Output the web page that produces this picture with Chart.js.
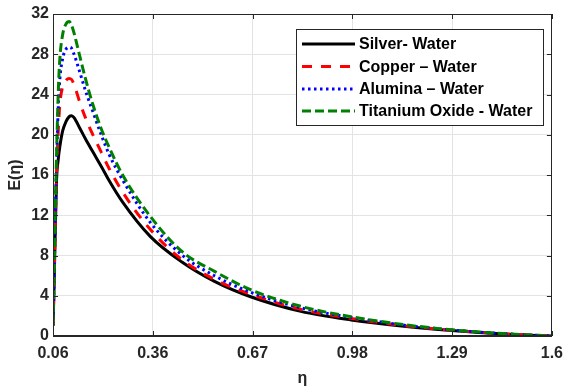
<!DOCTYPE html>
<html><head><meta charset="utf-8">
<script src="https://cdn.jsdelivr.net/npm/chart.js@4"></script>
<style>html,body{margin:0;padding:0;background:#fff}#wrap{width:571px;height:391px}</style>
</head><body><div id="wrap"><canvas id="c" width="571" height="391"></canvas></div>
<script>
const etaValues = [0.06, 0.063, 0.066, 0.071, 0.076, 0.081, 0.09, 0.1, 0.11, 0.117, 0.125, 0.142, 0.16, 0.183, 0.21, 0.234, 0.275, 0.36, 0.458, 0.56, 0.67, 0.825, 0.98, 1.15, 1.29, 1.45, 1.6];
const silverWater = [1.0, 4.5, 9.0, 15.5, 17.5, 18.8, 20.4, 21.3, 21.8, 21.9, 21.7, 20.7, 19.6, 18.3, 16.8, 15.4, 13.3, 9.9, 7.35, 5.4, 3.9, 2.45, 1.6, 0.95, 0.55, 0.2, 0];
const copperWater = [1.0, 4.8, 9.5, 16.2, 20.2, 23.0, 24.8, 25.4, 25.6, 25.5, 25.0, 23.3, 21.7, 20.0, 18.2, 16.6, 14.3, 10.6, 7.6, 5.6, 4.15, 2.65, 1.75, 1.0, 0.58, 0.22, 0];
const aluminaWater = [1.1, 5.0, 10.0, 17.0, 22.5, 25.5, 27.6, 28.5, 28.7, 28.6, 28.0, 26.3, 24.4, 22.3, 19.9, 18.0, 15.5, 11.3, 8.05, 5.96, 4.35, 2.8, 1.85, 1.05, 0.6, 0.23, 0];
const titaniumOxideWater = [1.1, 5.2, 10.5, 18.0, 24.0, 27.5, 30.0, 31.0, 31.25, 30.9, 30.1, 27.9, 25.6, 23.0, 20.5, 18.7, 16.0, 11.9, 8.4, 6.4, 4.6, 2.95, 1.92, 1.1, 0.62, 0.24, 0];
const seriesLabels = ['Silver- Water', 'Copper \u2013 Water', 'Alumina \u2013 Water', 'Titanium Oxide - Water'];
const xTickValues = [0.06, 0.368, 0.676, 0.984, 1.292, 1.6];
const xTickLabels = ['0.06', '0.36', '0.67', '0.98', '1.29', '1.6'];
const yTickValues = [0, 4, 8, 12, 16, 20, 24, 28, 32];

const pts = arr => etaValues.map((x, i) => ({x: x, y: arr[i]}));
const AX = '#262626';
const FONT = "'Liberation Sans', Arial, sans-serif";

const boxPlugin = {
  id: 'boxPlugin',
  afterDraw(chart) {
    const {ctx, chartArea: {left, right, top, bottom}, scales: {x, y}} = chart;
    ctx.save();
    ctx.strokeStyle = AX; ctx.lineWidth = 1;
    ctx.strokeRect(Math.round(left) + 0.5, Math.round(top) + 0.5, Math.round(right - left) - 1, Math.round(bottom - top) - 1);
    ctx.beginPath();
    x.ticks.forEach(t => {
      const px = Math.round(x.getPixelForValue(t.value)) + 0.5;
      ctx.moveTo(px, bottom); ctx.lineTo(px, bottom - 5);
      ctx.moveTo(px, top); ctx.lineTo(px, top + 5);
    });
    y.ticks.forEach(t => {
      const py = Math.round(y.getPixelForValue(t.value)) + 0.5;
      ctx.moveTo(left, py); ctx.lineTo(left + 5, py);
      ctx.moveTo(right, py); ctx.lineTo(right - 5, py);
    });
    ctx.stroke();
    // legend
    const bx = 296.5, by = 29.5, bw = 247, bh = 96;
    ctx.fillStyle = '#fff';
    ctx.fillRect(bx, by, bw, bh);
    ctx.strokeStyle = AX;
    ctx.strokeRect(bx, by, bw, bh);
    const rowY = [44, 66.5, 89, 111];
    chart.data.datasets.forEach((ds, i) => {
      const yy = rowY[i];
      ctx.save();
      ctx.strokeStyle = ds.borderColor;
      ctx.lineWidth = ds.borderWidth;
      ctx.setLineDash(ds.borderDash || []);
      ctx.beginPath();
      ctx.moveTo(302, yy); ctx.lineTo(355, yy);
      ctx.stroke();
      ctx.restore();
      ctx.fillStyle = '#000';
      ctx.font = 'bold 16px ' + FONT;
      ctx.textBaseline = 'middle';
      ctx.textAlign = 'left';
      ctx.fillText(ds.label, 359, yy + 1);
    });
    ctx.restore();
  }
};

new Chart(document.getElementById('c'), {
  type: 'line',
  data: {
    datasets: [
      {label: seriesLabels[0], data: pts(silverWater), borderColor: '#000000', borderWidth: 3, order: 3},
      {label: seriesLabels[1], data: pts(copperWater), borderColor: '#ff0000', borderWidth: 3, borderDash: [10, 9], order: 2},
      {label: seriesLabels[2], data: pts(aluminaWater), borderColor: '#0000ff', borderWidth: 3, borderDash: [2.5, 3.5], order: 1},
      {label: seriesLabels[3], data: pts(titaniumOxideWater), borderColor: '#008000', borderWidth: 3, borderDash: [9, 4], order: 0}
    ]
  },
  options: {
    responsive: false,
    animation: false,
    devicePixelRatio: 1,
    layout: {padding: {top: 14, right: 14, left: 0, bottom: 0}},
    elements: {point: {radius: 0}, line: {cubicInterpolationMode: 'monotone', fill: false}},
    plugins: {legend: {display: false}, tooltip: {enabled: false}},
    scales: {
      x: {
        type: 'linear', min: 0.06, max: 1.6,
        afterBuildTicks: s => { s.ticks = xTickValues.map(v => ({value: v})); },
        afterFit: s => { s.height = 55; },
        ticks: {
          callback: (v, i) => xTickLabels[i],
          font: {family: FONT, size: 16, weight: 'bold'}, color: AX, padding: 8, maxRotation: 0
        },
        grid: {color: '#e3e3e3', drawTicks: false},
        border: {color: AX},
        title: {display: true, text: '\u03b7', font: {family: FONT, size: 16, weight: 'bold'}, color: AX, padding: {top: 0, bottom: 3}}
      },
      y: {
        type: 'linear', min: 0, max: 32,
        afterBuildTicks: s => { s.ticks = yTickValues.map(v => ({value: v})); },
        afterFit: s => { s.width = 53; },
        ticks: {font: {family: FONT, size: 16, weight: 'bold'}, color: AX, padding: 4},
        grid: {color: '#e3e3e3', drawTicks: false},
        border: {color: AX},
        title: {display: true, text: 'E(\u03b7)', font: {family: FONT, size: 16, weight: 'bold'}, color: AX, padding: {top: 6, bottom: 0}}
      }
    }
  },
  plugins: [boxPlugin]
});
</script>
</body></html>
